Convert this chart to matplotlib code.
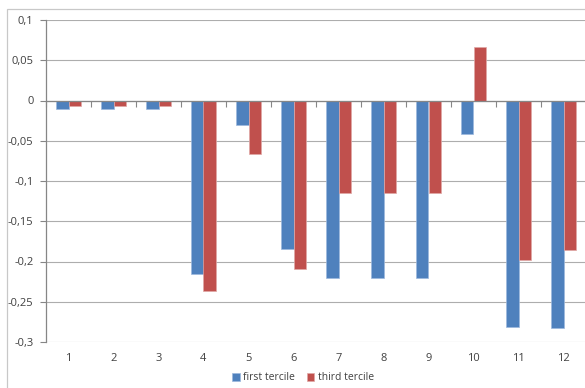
import numpy as np
import matplotlib
matplotlib.use("Agg")
import matplotlib.pyplot as plt
from matplotlib.patches import Rectangle
from matplotlib.ticker import FixedLocator, FuncFormatter

categories = [str(i) for i in range(1, 13)]
first_tercile = [-0.011, -0.011, -0.011, -0.215, -0.030, -0.185,
                 -0.221, -0.221, -0.221, -0.041, -0.281, -0.282]
third_tercile = [-0.007, -0.007, -0.007, -0.237, -0.067, -0.209,
                 -0.115, -0.115, -0.115, 0.066, -0.198, -0.186]
y_ticks = [0.1, 0.05, 0, -0.05, -0.1, -0.15, -0.2, -0.25, -0.3]

BLUE = "#4F81BD"
RED = "#C0504D"
GRID = "#ADADAD"
AXIS = "#868686"
TEXT = "#404040"

plt.rcParams["font.family"] = ["Open Sans", "DejaVu Sans"]
plt.rcParams["font.size"] = 8

W, H = 585, 388
fig = plt.figure(figsize=(W / 100, H / 100), dpi=100)
ax = fig.add_axes([46 / W, 1 - 342 / H, 540 / W, 322 / H])

# outer chart-area frame
fig.patches.append(Rectangle((7 / W, -0.05), 1.0, 1 - 9 / H + 0.05,
                             transform=fig.transFigure, fill=False,
                             edgecolor="#C8C8C8", linewidth=0.9))

x = np.arange(1, len(categories) + 1)
w = 0.28
ax.bar(x - w / 2, first_tercile, w, color=BLUE, edgecolor="#9DB9DD",
       linewidth=0.5, label="first tercile", zorder=3)
ax.bar(x + w / 2, third_tercile, w, color=RED, edgecolor="#E0A8A6",
       linewidth=0.5, label="third tercile", zorder=3)

ax.set_xlim(0.5, len(categories) + 0.5)
ax.set_ylim(-0.3, 0.1)

# y axis
ax.yaxis.set_major_locator(FixedLocator(y_ticks))
ax.yaxis.set_major_formatter(
    FuncFormatter(lambda v, p: f"{round(v, 2):g}".replace(".", ",")))
ax.yaxis.grid(True, color=GRID, linewidth=0.8, zorder=0)
ax.tick_params(axis="y", direction="out", length=4, width=0.8,
               color=AXIS, labelcolor=TEXT, pad=5)

# horizontal axis crosses at zero, with ticks between categories
ax.spines["bottom"].set_position(("data", 0))
ax.spines["bottom"].set_color(AXIS)
ax.spines["bottom"].set_linewidth(0.9)
ax.spines["bottom"].set_zorder(4)
ax.spines["left"].set_color(AXIS)
ax.spines["left"].set_linewidth(0.9)
for s in ("top", "right"):
    ax.spines[s].set_visible(False)
ax.set_xticks(x)
ax.set_xticks(np.arange(0.5, len(categories) + 1, 1.0), minor=True)
ax.tick_params(axis="x", which="major", length=0, labelbottom=False)
ax.tick_params(axis="x", which="minor", direction="out", length=4,
               width=0.8, color=AXIS)

# category labels sit below the plot
sec = ax.secondary_xaxis(0)
sec.set_xticks(x)
sec.set_xticklabels(categories)
sec.spines["bottom"].set_visible(False)
sec.tick_params(length=0, pad=8, labelcolor=TEXT)

handles, labels = ax.get_legend_handles_labels()
fig.legend(handles, labels, loc="center", ncol=2,
           bbox_to_anchor=(303 / W, 1 - 378 / H), frameon=False,
           handlelength=0.7, handleheight=0.7, handletextpad=0.3,
           columnspacing=1.2, labelcolor=TEXT, fontsize=7.5)

fig.savefig("out.png", dpi=100)
